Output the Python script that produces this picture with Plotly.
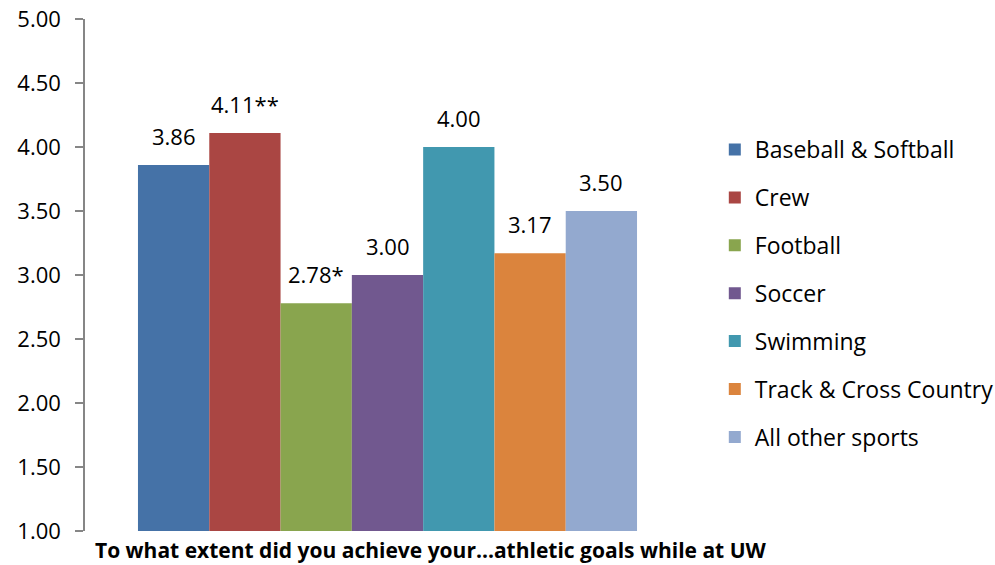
import plotly.graph_objects as go

# Mean response by sport
sports = [
    "Baseball & Softball",
    "Crew",
    "Football",
    "Soccer",
    "Swimming",
    "Track & Cross Country",
    "All other sports",
]
scores = [3.86, 4.11, 2.78, 3.00, 4.00, 3.17, 3.50]
significance = ["", "**", "*", "", "", "", ""]
colors = ["#4572A7", "#AA4643", "#89A54E", "#71588F", "#4198AF", "#DB843D", "#93A9CF"]

question = "To what extent did you achieve your...athletic goals while at UW"
y_ticks = [1.0, 1.5, 2.0, 2.5, 3.0, 3.5, 4.0, 4.5, 5.0]

FONT = "Open Sans"

fig = go.Figure()
for i, (sport, score, color) in enumerate(zip(sports, scores, colors)):
    fig.add_trace(
        go.Bar(
            x=[i],
            y=[score],
            width=1,
            name=sport,
            legendgroup=sport,
            marker=dict(color=color, line=dict(width=0)),
            hoverinfo="name+y",
        )
    )
    fig.add_annotation(
        x=i,
        y=score,
        text=f"{score:.2f}{significance[i]}",
        showarrow=False,
        yanchor="bottom",
        yshift=12,
        font=dict(family=FONT, size=22, color="#000000"),
    )

fig.add_annotation(
    x=0.014,
    y=0,
    xref="paper",
    yref="paper",
    xanchor="left",
    yanchor="top",
    yshift=-3,
    text=f"<b>{question}</b>",
    showarrow=False,
    font=dict(family=FONT, size=21, color="#000000"),
)

fig.update_layout(
    width=995,
    height=565,
    margin=dict(l=85, r=305, t=19, b=34, autoexpand=False),
    paper_bgcolor="white",
    plot_bgcolor="white",
    barmode="overlay",
    showlegend=True,
    legend=dict(
        x=1.041,
        y=0.787,
        xanchor="left",
        yanchor="top",
        font=dict(family=FONT, size=23, color="#000000"),
        tracegroupgap=15,
        itemwidth=30,
        bgcolor="rgba(0,0,0,0)",
    ),
    xaxis=dict(
        range=[-1.243, 7.243],
        showticklabels=False,
        showgrid=False,
        zeroline=False,
        showline=False,
        ticks="",
        automargin=False,
    ),
    yaxis=dict(
        range=[1, 5],
        tickvals=y_ticks,
        ticktext=[f"{v:.2f}" for v in y_ticks],
        showgrid=False,
        zeroline=False,
        showline=True,
        linecolor="#868686",
        linewidth=1.5,
        ticks="outside",
        ticklen=8,
        tickcolor="#868686",
        tickwidth=1.5,
        ticklabelstandoff=10,
        automargin=False,
        tickfont=dict(family=FONT, size=22, color="#000000"),
    ),
)

fig.write_html("out.html")
